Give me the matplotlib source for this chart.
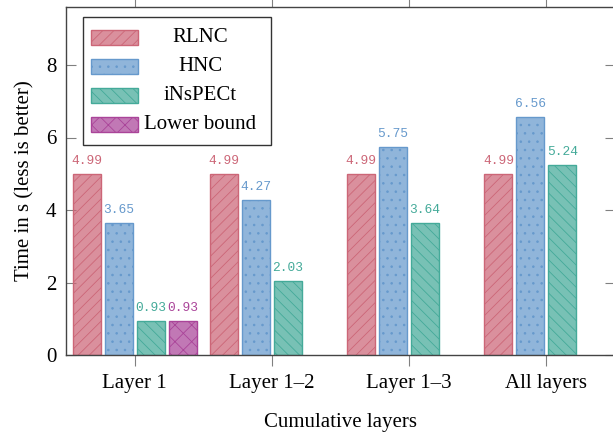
import numpy as np
import matplotlib
matplotlib.use("Agg")
import matplotlib.pyplot as plt
from matplotlib.colors import to_rgba
from matplotlib.patches import Rectangle

# Data
groups = ["Layer 1", "Layer 1\u20132", "Layer 1\u20133", "All layers"]
series = ["RLNC", "HNC", "iNsPECt", "Lower bound"]
rlnc = [4.99, 4.99, 4.99, 4.99]
hnc = [3.65, 4.27, 5.75, 6.56]
inspect = [0.93, 2.03, 3.64, 5.24]
lower_bound = [0.93, None, None, None]

colors = ["#CC6677", "#6699CC", "#44AA99", "#AA4499"]
hatches = ["///", "..", "\\\\\\", "xx"]

plt.rcParams["font.family"] = ["Liberation Serif", "DejaVu Serif"]
plt.rcParams["hatch.linewidth"] = 0.6

fig = plt.figure(figsize=(6.13, 4.38), dpi=100)
ax = fig.add_axes([66 / 613, 1 - 355 / 438, 549 / 613, 348 / 438])

x = np.arange(len(groups))
width = 0.204
step = 0.233
values = [rlnc, hnc, inspect, lower_bound]

for k, (vals, col, hat) in enumerate(zip(values, colors, hatches)):
    offset = (k - 1.5) * step
    xs = [xi + offset for xi, v in zip(x, vals) if v is not None]
    ys = [v for v in vals if v is not None]
    ax.bar(xs, ys, width, facecolor=to_rgba(col, 0.72), edgecolor=col,
           hatch=hat, linewidth=1.0, zorder=2)
    for xi, v in zip(xs, ys):
        ax.annotate(f"{v:.2f}", (xi, v), xytext=(0, 5), textcoords="offset points",
                    ha="center", va="bottom", color=col, fontsize=9.3,
                    family="Liberation Mono")

ax.set_xlim(-0.5, 3.5)
ax.set_ylim(0, 9.6)
ax.set_xticks(x)
ax.set_xticklabels(groups, fontsize=15)
ax.set_yticks([0, 2, 4, 6, 8])
ax.tick_params(axis="y", direction="in", length=7.5, color="#808080",
               labelsize=15, pad=7, right=True)
ax.tick_params(axis="x", direction="out", length=8, color="#808080",
               labelsize=15, pad=6, top=True)
for s in ax.spines.values():
    s.set_color("#444444")
    s.set_linewidth(1.0)

ax.set_xlabel("Cumulative layers", fontsize=15, labelpad=14)
ax.set_ylabel("Time in s (less is better)", fontsize=15, labelpad=8)

# legend with centered labels
ax.add_patch(Rectangle((0.031, 0.603), 0.342, 0.368, transform=ax.transAxes,
                       facecolor="white", edgecolor="#333333", linewidth=1.0,
                       zorder=5))
ys_leg = [0.912, 0.829, 0.746, 0.663]
for name, col, hat, yl in zip(series, colors, hatches, ys_leg):
    ax.add_patch(Rectangle((0.0455, yl - 0.0215), 0.0855, 0.043,
                           transform=ax.transAxes, facecolor=to_rgba(col, 0.72),
                           edgecolor=col, hatch=hat, linewidth=1.0, zorder=6))
    ax.text(0.244, yl, name, transform=ax.transAxes, ha="center", va="center",
            fontsize=15, zorder=7)

fig.savefig("out.png", dpi=100)
